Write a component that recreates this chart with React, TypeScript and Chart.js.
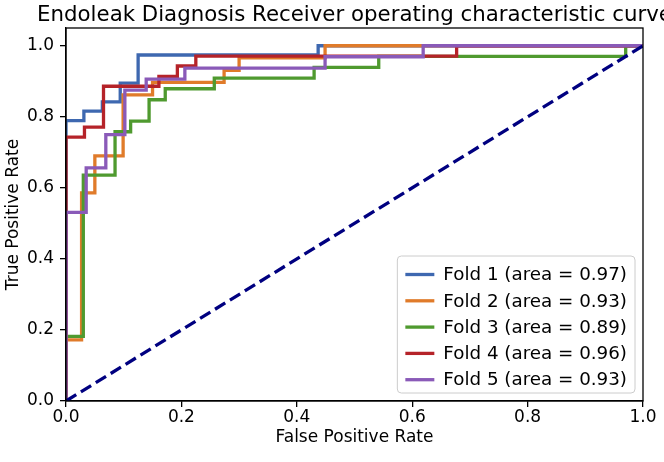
import React, { useEffect, useRef } from "react";
import { Chart, registerables } from "chart.js";

Chart.register(...registerables);

const chartTitle = "Endoleak Diagnosis Receiver operating characteristic curve";
const xLabel = "False Positive Rate";
const yLabel = "True Positive Rate";
const xTicks = [0, 0.2, 0.4, 0.6, 0.8, 1.0];
const yTicks = [0, 0.2, 0.4, 0.6, 0.8, 1.0];

const foldNames = ["Fold 1", "Fold 2", "Fold 3", "Fold 4", "Fold 5"];
const foldAreas = [0.97, 0.93, 0.89, 0.96, 0.93];
const foldColors = ["#3e68b0", "#e07b2a", "#4f9a2f", "#b52329", "#8a5ab8"];

const fold1Fpr = [0, 0, 0.031, 0.031, 0.063, 0.063, 0.094, 0.094, 0.125, 0.125, 0.437, 0.437, 1];
const fold1Tpr = [0, 0.789, 0.789, 0.816, 0.816, 0.842, 0.842, 0.895, 0.895, 0.974, 0.974, 1, 1];

const fold2Fpr = [0, 0, 0.027, 0.027, 0.05, 0.05, 0.099, 0.099, 0.15, 0.15, 0.274, 0.274, 0.3, 0.3, 0.449, 0.449, 1];
const fold2Tpr = [0, 0.172, 0.172, 0.586, 0.586, 0.69, 0.69, 0.862, 0.862, 0.897, 0.897, 0.931, 0.931, 0.966, 0.966, 1, 1];

const fold3Fpr = [0, 0, 0.03, 0.03, 0.085, 0.085, 0.112, 0.112, 0.144, 0.144, 0.172, 0.172, 0.257, 0.257, 0.43, 0.43, 0.542, 0.542, 0.97, 0.97, 1];
const fold3Tpr = [0, 0.182, 0.182, 0.636, 0.636, 0.758, 0.758, 0.788, 0.788, 0.848, 0.848, 0.879, 0.879, 0.909, 0.909, 0.939, 0.939, 0.97, 0.97, 1, 1];

const fold4Fpr = [0, 0, 0.032, 0.032, 0.065, 0.065, 0.161, 0.161, 0.193, 0.193, 0.225, 0.225, 0.677, 0.677, 1];
const fold4Tpr = [0, 0.743, 0.743, 0.771, 0.771, 0.886, 0.886, 0.914, 0.914, 0.943, 0.943, 0.971, 0.971, 1, 1];

const fold5Fpr = [0, 0, 0.035, 0.035, 0.069, 0.069, 0.102, 0.102, 0.139, 0.139, 0.206, 0.206, 0.449, 0.449, 0.619, 0.619, 1];
const fold5Tpr = [0, 0.531, 0.531, 0.656, 0.656, 0.75, 0.75, 0.875, 0.875, 0.906, 0.906, 0.937, 0.937, 0.969, 0.969, 1, 1];

const chanceFpr = [0, 1];
const chanceTpr = [0, 1];

const foldFprs = [fold1Fpr, fold2Fpr, fold3Fpr, fold4Fpr, fold5Fpr];
const foldTprs = [fold1Tpr, fold2Tpr, fold3Tpr, fold4Tpr, fold5Tpr];

const FONT = '"DejaVu Sans", sans-serif';

function toPoints(xs: number[], ys: number[]) {
  return xs.map((x, i) => ({ x, y: ys[i] }));
}

const legendLabels = foldNames.map((n, i) => `${n} (area = ${foldAreas[i].toFixed(2)})`);

const framePlugin = {
  id: "frame",
  afterDatasetsDraw(chart: any) {
    const { ctx, chartArea: ca } = chart;
    ctx.save();
    ctx.strokeStyle = "#000";
    ctx.lineWidth = 1.3;
    ctx.strokeRect(ca.left, ca.top, ca.right - ca.left, ca.bottom - ca.top);
    ctx.restore();
  },
};

// Title centred over the plot area (matplotlib style); it may run past the canvas edge.
const titlePlugin = {
  id: "axesTitle",
  afterDraw(chart: any) {
    const { ctx, chartArea: ca } = chart;
    ctx.save();
    ctx.font = `21.3px ${FONT}`;
    ctx.fillStyle = "#000";
    ctx.textAlign = "center";
    ctx.textBaseline = "alphabetic";
    ctx.fillText(chartTitle, (ca.left + ca.right) / 2, ca.top - 7);
    ctx.restore();
  },
};

const legendPlugin = {
  id: "boxLegend",
  afterDraw(chart: any) {
    const { ctx, chartArea: ca } = chart;
    ctx.save();
    ctx.font = `18.3px ${FONT}`;
    const textW = Math.max(...legendLabels.map((l) => ctx.measureText(l).width));
    const rowH = 26.3;
    const lineLen = 29;
    const gap = 9;
    const padX = 8;
    const boxW = padX + lineLen + gap + textW + 8;
    const boxH = 137;
    const right = ca.right - 8;
    const bottom = ca.bottom - 8;
    const left = right - boxW;
    const top = bottom - boxH;
    const r = 4;
    ctx.beginPath();
    ctx.moveTo(left + r, top);
    ctx.lineTo(right - r, top);
    ctx.arcTo(right, top, right, top + r, r);
    ctx.lineTo(right, bottom - r);
    ctx.arcTo(right, bottom, right - r, bottom, r);
    ctx.lineTo(left + r, bottom);
    ctx.arcTo(left, bottom, left, bottom - r, r);
    ctx.lineTo(left, top + r);
    ctx.arcTo(left, top, left + r, top, r);
    ctx.closePath();
    ctx.fillStyle = "rgba(255,255,255,0.8)";
    ctx.fill();
    ctx.strokeStyle = "#cccccc";
    ctx.lineWidth = 1;
    ctx.stroke();
    legendLabels.forEach((label, i) => {
      const cy = top + 18.5 + i * rowH;
      ctx.beginPath();
      ctx.strokeStyle = foldColors[i];
      ctx.lineWidth = 3.3;
      ctx.moveTo(left + padX, cy);
      ctx.lineTo(left + padX + lineLen, cy);
      ctx.stroke();
      ctx.fillStyle = "#000";
      ctx.textBaseline = "middle";
      ctx.textAlign = "left";
      ctx.fillText(label, left + padX + lineLen + gap, cy + 1);
    });
    ctx.restore();
  },
};

export default function App() {
  const canvasRef = useRef<HTMLCanvasElement | null>(null);

  useEffect(() => {
    if (!canvasRef.current) return;
    Chart.defaults.font.family = FONT;
    Chart.defaults.color = "#000";

    const datasets: any[] = foldNames.map((name, i) => ({
      label: `${name} (area = ${foldAreas[i].toFixed(2)})`,
      data: toPoints(foldFprs[i], foldTprs[i]),
      borderColor: foldColors[i],
      backgroundColor: foldColors[i],
      borderWidth: 3.3,
      pointRadius: 0,
      showLine: true,
      fill: false,
      tension: 0,
      order: foldNames.length - i,
    }));
    datasets.push({
      label: "chance",
      data: toPoints(chanceFpr, chanceTpr),
      borderColor: "#000080",
      backgroundColor: "#000080",
      borderWidth: 3.3,
      borderDash: [12, 5.5],
      pointRadius: 0,
      showLine: true,
      fill: false,
      order: 0,
    });

    const chart = new Chart(canvasRef.current, {
      type: "scatter",
      data: { datasets },
      plugins: [framePlugin, legendPlugin, titlePlugin],
      options: {
        animation: false,
        responsive: false,
        devicePixelRatio: 1,
        layout: { padding: { left: 0, right: 21, top: 28, bottom: 0 } },
        plugins: {
          legend: { display: false },
          tooltip: { enabled: false },
          title: { display: false },
        },
        scales: {
          x: {
            type: "linear",
            min: 0,
            max: 1,
            afterFit: (s: any) => {
              s.height = 61;
            },
            afterBuildTicks: (s: any) => {
              s.ticks = xTicks.map((v) => ({ value: v }));
            },
            ticks: {
              font: { size: 17, family: FONT },
              color: "#000",
              padding: 0,
              maxRotation: 0,
              callback: (v: any) => Number(v).toFixed(1),
            },
            grid: {
              display: true,
              drawOnChartArea: false,
              drawTicks: true,
              tickLength: 6,
              color: "#000",
              lineWidth: 1.3,
            },
            border: { display: true, color: "#000", width: 1.3 },
            title: {
              display: true,
              text: xLabel,
              font: { size: 17, family: FONT },
              color: "#000",
              padding: { top: 0, bottom: 14 },
            },
          },
          y: {
            type: "linear",
            min: 0,
            max: 1.05,
            afterFit: (s: any) => {
              s.width = 66;
            },
            afterBuildTicks: (s: any) => {
              s.ticks = yTicks.map((v) => ({ value: v }));
            },
            ticks: {
              font: { size: 17, family: FONT },
              color: "#000",
              padding: 6,
              callback: (v: any) => Number(v).toFixed(1),
            },
            grid: {
              display: true,
              drawOnChartArea: false,
              drawTicks: true,
              tickLength: 6,
              color: "#000",
              lineWidth: 1.3,
            },
            border: { display: true, color: "#000", width: 1.3 },
            title: {
              display: true,
              text: yLabel,
              font: { size: 17, family: FONT },
              color: "#000",
              padding: { top: 3, bottom: 0 },
            },
          },
        },
      } as any,
    });
    return () => chart.destroy();
  }, []);

  return (
    <div style={{ position: "absolute", left: 0, top: 0, width: 664, height: 462, background: "#fff" }}>
      <canvas ref={canvasRef} width={664} height={462} style={{ display: "block" }} />
    </div>
  );
}
